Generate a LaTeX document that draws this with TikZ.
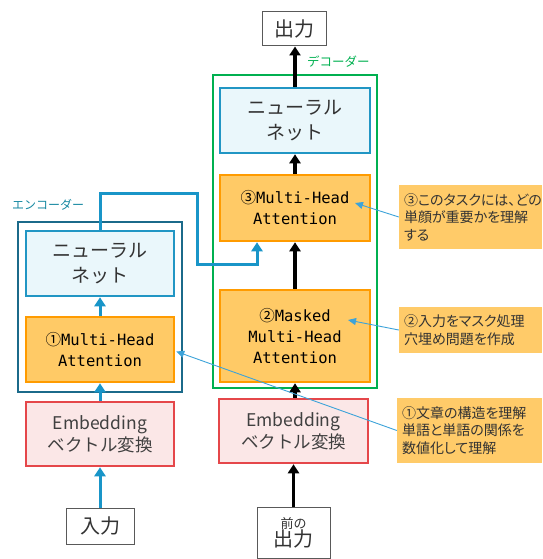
\documentclass[tikz,border=0pt]{standalone}
\usepackage{fontspec}
\setmainfont{Noto Sans CJK JP}
\newfontfamily\monof{DejaVu Sans Mono}
\newfontfamily\jpprop[RawFeature=+palt]{Noto Sans CJK JP}
\usetikzlibrary{arrows.meta,calc}
\definecolor{dgreen}{HTML}{00B050}
\definecolor{encblue}{HTML}{1B6A8A}
\definecolor{nnblue}{HTML}{2196C4}
\definecolor{nnfill}{HTML}{EAF7FB}
\definecolor{mhafill}{HTML}{FFCA66}
\definecolor{mhaline}{HTML}{FF9B00}
\definecolor{embline}{HTML}{E5474A}
\definecolor{embfill}{HTML}{FBE7E7}
\definecolor{callfill}{HTML}{FFCB69}
\definecolor{arrblue}{HTML}{1995C8}
\definecolor{leadblue}{HTML}{3DA3D9}
\definecolor{txt}{HTML}{333333}
\tikzset{
  box/.style={inner sep=0pt, align=center, text=txt},
  plainbox/.style={box, draw=black!65, line width=1pt, fill=white},
  nnbox/.style={box, draw=nnblue, line width=2.5pt, fill=nnfill, font=\fontsize{19}{25}\selectfont},
  mhabox/.style={box, draw=mhaline, line width=2.5pt, fill=mhafill, font=\monof\fontsize{15.5}{21}\selectfont, text=black},
  embbox/.style={box, draw=embline, line width=2.5pt, fill=embfill, font=\fontsize{17.5}{22}\selectfont, text=black!75},
  callout/.style={inner sep=0pt, fill=callfill, text=txt, align=left, font=\jpprop\fontsize{14}{17.5}\selectfont},
  blackarr/.style={line width=3.5pt, -{Triangle[width=11pt,length=9pt]}},
  bluearr/.style={draw=arrblue, line width=3pt, -{Triangle[width=11pt,length=9pt]}},
  leader/.style={draw=leadblue, line width=0.9pt, -{Triangle[width=7pt,length=8pt]}},
}
\begin{document}
\begin{tikzpicture}[x=1pt,y=-1pt]
\useasboundingbox (0,0) rectangle (542,559);
% containers
\node[draw=dgreen, line width=2.5pt, minimum width=164pt, minimum height=313pt, inner sep=0pt] (dec) at (295,231.5) {};
\node[draw=encblue, line width=2.5pt, minimum width=164pt, minimum height=170pt, inner sep=0pt] (enc) at (100,307) {};
\node[text=dgreen, font=\fontsize{12.5}{14}\selectfont, anchor=west, inner sep=0pt] (declab) at (307,62) {デコーダー};
\node[text=encblue!80!cyan, font=\fontsize{12}{14}\selectfont, anchor=west, inner sep=0pt] (enclab) at (12,205) {エンコーダー};
% decoder boxes
\node[plainbox, minimum width=64pt, minimum height=34pt, font=\fontsize{20}{24}\selectfont] (out) at (294,29) {出力};
\node[nnbox, minimum width=150pt, minimum height=65pt] (decNN) at (295,120.5) {ニューラル\\ネット};
\node[mhabox, minimum width=150pt, minimum height=66pt] (mha3) at (295,208) {{\rmfamily ③}Multi-Head\\Attention};
\node[mhabox, minimum width=150pt, minimum height=92pt] (mha2) at (295,336) {{\rmfamily ②}Masked\\Multi-Head\\Attention};
\node[embbox, minimum width=149pt, minimum height=64pt] (decEmb) at (293.5,431) {Embedding\\ベクトル変換};
\node[plainbox, minimum width=73pt, minimum height=51pt] (prev) at (293.5,532.5) {{\fontsize{13}{15}\selectfont 前の}\\[-1pt]{\fontsize{20}{24}\selectfont 出力}};
% encoder boxes
\node[nnbox, minimum width=148pt, minimum height=65pt] (encNN) at (100,263.5) {ニューラル\\ネット};
\node[mhabox, minimum width=148pt, minimum height=65pt] (mha1) at (100,349.5) {{\rmfamily ①}Multi-Head\\Attention};
\node[embbox, minimum width=148pt, minimum height=64pt] (encEmb) at (100,434) {Embedding\\ベクトル変換};
\node[plainbox, minimum width=68pt, minimum height=36pt, font=\fontsize{20}{24}\selectfont] (in) at (100,526) {入力};
% callouts
\node[callout, minimum width=143pt, minimum height=64pt, text width=133pt] (c3) at (470.5,217) {③このタスクには、どの\\単顔が重要かを理解\\する};
\node[callout, minimum width=143pt, minimum height=46pt, text width=133pt] (c2) at (470.5,330) {②入力をマスク処理\\穴埋め問題を作成};
\node[callout, minimum width=145pt, minimum height=65pt, text width=135pt] (c1) at (469.5,430.5) {①文章の構造を理解\\単語と単語の関係を\\数値化して理解};
% black arrows
\draw[blackarr] (prev.north) -- (decEmb.south -| prev.north);
\draw[blackarr] (decEmb.north -| mha2.south) -- (mha2.south);
\draw[blackarr] (mha2.north) -- (mha3.south);
\draw[blackarr] (mha3.north) -- (decNN.south);
\draw[blackarr] (decNN.north) -- (out.south -| decNN.north);
% blue arrows
\draw[bluearr] (in.north) -- (encEmb.south);
\draw[bluearr] (encEmb.north) -- (mha1.south);
\draw[bluearr] (mha1.north) -- (encNN.south);
\coordinate (k1) at (197,193);
\coordinate (k2) at (257,264);
\draw[bluearr] (encNN.north) |- (k1) |- (k2) -- (mha3.south -| k2);
% leaders
\coordinate (t3) at (355,203);
\coordinate (t2) at (348,320);
\draw[leader] (c3.west) -- (t3);
\draw[leader] (c2.west) -- (t2);
\draw[leader] (c1.west) -- ($(mha1.east)+(1,2)$);
\end{tikzpicture}
\end{document}
